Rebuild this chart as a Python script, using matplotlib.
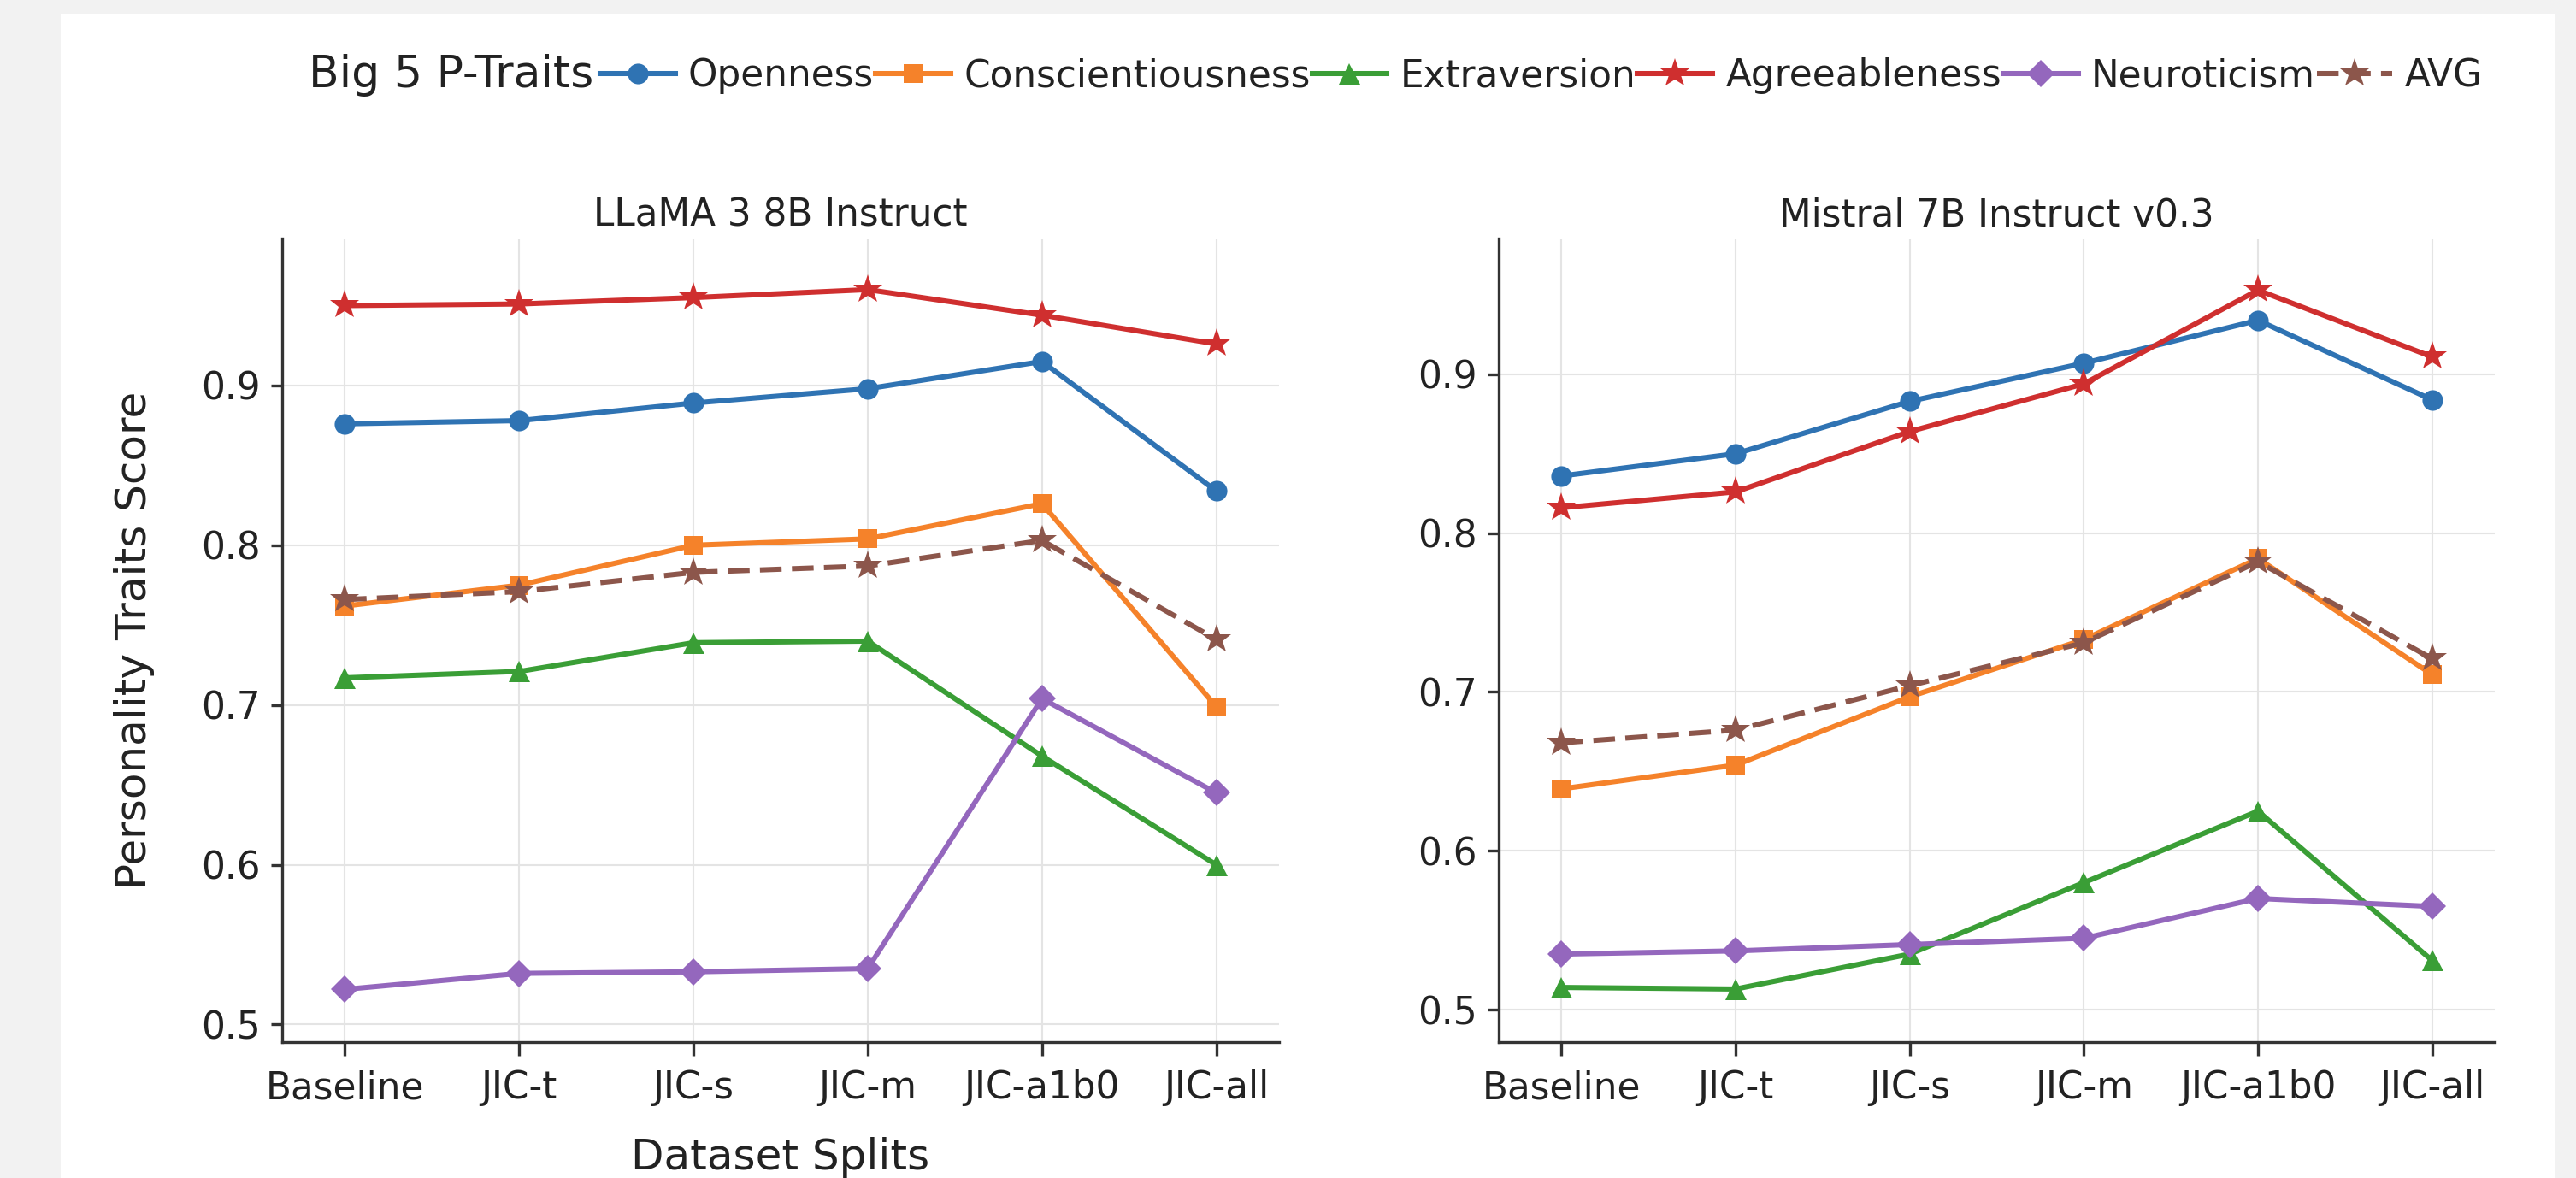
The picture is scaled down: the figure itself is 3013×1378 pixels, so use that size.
import matplotlib
matplotlib.use("Agg")
from matplotlib import pyplot as plt
from matplotlib import ticker as mticker
from matplotlib.patches import Rectangle

# data
splits = ["Baseline", "JIC-t", "JIC-s", "JIC-m", "JIC-a1b0", "JIC-all"]
traits = ["Openness", "Conscientiousness", "Extraversion",
          "Agreeableness", "Neuroticism", "AVG"]

llama_openness = [0.876, 0.878, 0.889, 0.898, 0.915, 0.834]
llama_conscientiousness = [0.762, 0.775, 0.800, 0.804, 0.826, 0.699]
llama_extraversion = [0.717, 0.721, 0.739, 0.740, 0.668, 0.600]
llama_agreeableness = [0.950, 0.951, 0.955, 0.960, 0.944, 0.926]
llama_neuroticism = [0.522, 0.532, 0.533, 0.535, 0.704, 0.645]
llama_avg = [0.766, 0.771, 0.783, 0.787, 0.803, 0.741]

mistral_openness = [0.836, 0.850, 0.883, 0.907, 0.934, 0.884]
mistral_conscientiousness = [0.639, 0.654, 0.697, 0.733, 0.784, 0.711]
mistral_extraversion = [0.514, 0.513, 0.535, 0.580, 0.625, 0.531]
mistral_agreeableness = [0.816, 0.826, 0.864, 0.894, 0.953, 0.911]
mistral_neuroticism = [0.535, 0.537, 0.541, 0.545, 0.570, 0.565]
mistral_avg = [0.668, 0.676, 0.704, 0.731, 0.782, 0.721]

llama = [llama_openness, llama_conscientiousness, llama_extraversion,
         llama_agreeableness, llama_neuroticism, llama_avg]
mistral = [mistral_openness, mistral_conscientiousness, mistral_extraversion,
           mistral_agreeableness, mistral_neuroticism, mistral_avg]

colors = ["#2f73b3", "#f5822a", "#3a9e36", "#cf2f2f", "#9467bd", "#8c564b"]
markers = ["o", "s", "^", "*", "D", "*"]
msizes = [5.8, 5.4, 6.0, 8.6, 5.6, 8.6]
lstyles = ["-", "-", "-", "-", "-", "--"]

W, H, DPI = 3013, 1378, 300
TXT = "#222222"

plt.rcParams["font.family"] = ["DejaVu Sans"]
plt.rcParams["text.color"] = TXT
plt.rcParams["axes.labelcolor"] = TXT
plt.rcParams["xtick.color"] = "#333333"
plt.rcParams["ytick.color"] = "#333333"
plt.rcParams["xtick.labelcolor"] = TXT
plt.rcParams["ytick.labelcolor"] = TXT

fig = plt.figure(figsize=(W / DPI, H / DPI), dpi=DPI, facecolor="#f2f2f2")
fig.add_artist(Rectangle((71 / W, 0), (2989 - 71) / W, 1 - 16 / H,
                         transform=fig.transFigure, facecolor="white",
                         edgecolor="none", zorder=-10))

ax1 = fig.add_axes([330 / W, 1 - 1219 / H, (1496 - 330) / W, (1219 - 279) / H])
ax2 = fig.add_axes([1753 / W, 1 - 1219 / H, (2918 - 1753) / W, (1219 - 279) / H])


def draw_panel(ax, series, title, ylim):
    x = list(range(len(splits)))
    lines = []
    for vals, c, m, ms, ls, name in zip(series, colors, markers, msizes,
                                        lstyles, traits):
        ln, = ax.plot(x, vals, color=c, marker=m, markersize=ms, lw=1.45,
                      linestyle=ls, markeredgewidth=0, label=name, zorder=3)
        if ls == "--":
            ln.set_dashes((4.2, 2.0))
        lines.append(ln)
    ax.set_xlim(-0.36, 5.36)
    ax.set_ylim(*ylim)
    ax.set_xticks(x)
    ax.set_xticklabels(splits)
    ax.yaxis.set_major_locator(mticker.FixedLocator([0.5, 0.6, 0.7, 0.8, 0.9]))
    ax.yaxis.set_major_formatter(mticker.FormatStrFormatter("%.1f"))
    ax.grid(True, color="#e4e4e4", lw=0.5, zorder=0)
    ax.set_axisbelow(True)
    for s in ["top", "right"]:
        ax.spines[s].set_visible(False)
    for s in ["left", "bottom"]:
        ax.spines[s].set_color("#333333")
        ax.spines[s].set_linewidth(0.8)
    ax.tick_params(axis="x", labelsize=10.5, length=3.8, width=0.8, pad=4)
    ax.tick_params(axis="y", labelsize=10.5, length=3.2, width=0.8, pad=2.9)
    ax.set_title(title, fontsize=10.5, pad=3.5, color=TXT)
    return lines


lines = draw_panel(ax1, llama, "LLaMA 3 8B Instruct", (0.489, 0.992))
draw_panel(ax2, mistral, "Mistral 7B Instruct v0.3", (0.4796, 0.9855))

ax1.set_ylabel("Personality Traits Score", fontsize=12, labelpad=13)
ax1.set_xlabel("Dataset Splits", fontsize=12, labelpad=8.5)

fig.text(694 / W, 1 - 101.7 / H, "Big 5 P-Traits", ha="right", va="baseline",
         fontsize=12.5)
fig.legend(lines, traits, loc="center left", bbox_to_anchor=(702 / W, 1 - 88.6 / H),
           ncol=6, frameon=False, fontsize=10.5, handlelength=2.0,
           handletextpad=0.35, columnspacing=0.05, borderpad=0,
           borderaxespad=0, numpoints=1)

fig.savefig("out.png", dpi=DPI, facecolor=fig.get_facecolor())
